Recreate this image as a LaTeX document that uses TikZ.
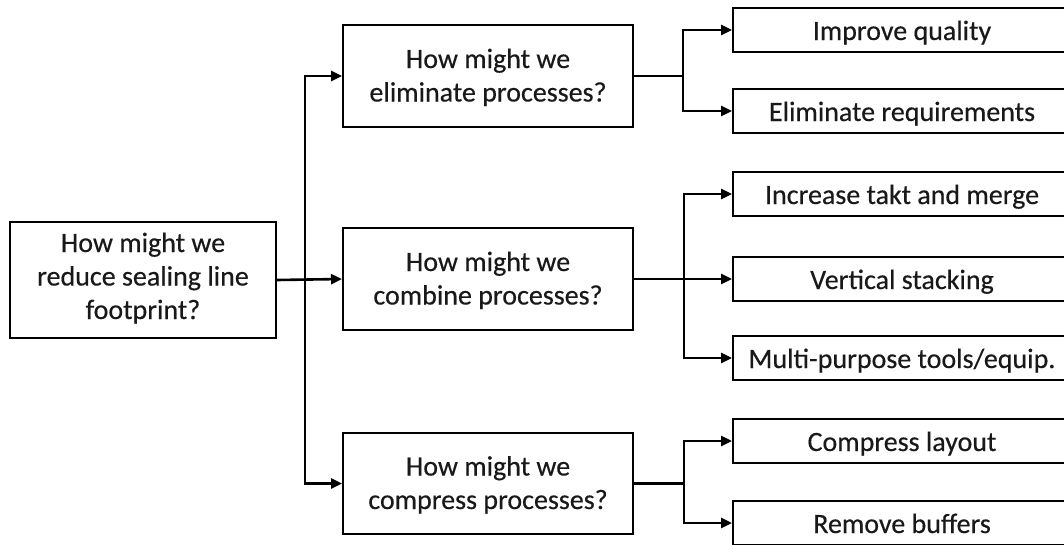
\documentclass[tikz,border=0pt]{standalone}
\usepackage{fontspec}
\setmainfont{Carlito}[FakeBold=0.4]
\usetikzlibrary{arrows.meta}
\begin{document}
\begin{tikzpicture}[x=1pt,y=-1pt,
  box/.style={draw=black,line width=2pt,rectangle,inner sep=0pt,align=center,
    font=\fontsize{28}{33.5}\selectfont,text=black!90},
  midbox/.style={box,minimum width=290pt,minimum height=102pt,
    text height=54pt,text depth=3pt},
  leafbox/.style={box,minimum width=338pt,minimum height=44pt,
    text height=20pt,text depth=0pt},
  link/.style={line width=2.6pt,draw=black},
  arr/.style={link,-{Triangle[length=11pt,width=10pt]}}]
\useasboundingbox (0,0) rectangle (1064,544);

% question boxes
\node[box,minimum width=266pt,minimum height=116pt,
  text height=86pt,text depth=8pt] (root) at (143,280)
  {How might we\\reduce sealing line\\footprint?};
\node[midbox] (elim) at (488,76) {How might we\\eliminate processes?};
\node[midbox] (comb) at (488,279) {How might we\\combine processes?};
\node[midbox,minimum height=101pt] (comp) at (488,483.5) {How might we\\compress processes?};

% answer boxes
\node[leafbox] (r1) at (902,30)    {Improve quality};
\node[leafbox] (r2) at (902,111)   {Eliminate requirements};
\node[leafbox] (r3) at (902,194)   {Increase takt and merge};
\node[leafbox] (r4) at (902,279)   {Vertical stacking};
\node[leafbox] (r5) at (902,358)   {Multi-purpose tools/equip.};
\node[leafbox] (r6) at (902,441)   {Compress layout};
\node[leafbox] (r7) at (902,523)   {Remove buffers};

% junction points
\coordinate (t)  at (305,280);
\coordinate (b1) at (683,76);
\coordinate (b2) at (684,279);
\coordinate (b3) at (684,483.5);

% root to questions
\draw[arr] (root.east) -- (comb.west);
\draw[arr] (t) |- (elim.west);
\draw[arr] (t) |- (comp.west);

% questions to answers
\draw[link] (elim.east) -- (b1);
\draw[arr] (b1) |- (r1.west);
\draw[arr] (b1) |- (r2.west);

\draw[arr] (comb.east) -- (r4.west);
\draw[arr] (b2) |- (r3.west);
\draw[arr] (b2) |- (r5.west);

\draw[link] (comp.east) -- (b3);
\draw[arr] (b3) |- (r6.west);
\draw[arr] (b3) |- (r7.west);
\end{tikzpicture}
\end{document}
